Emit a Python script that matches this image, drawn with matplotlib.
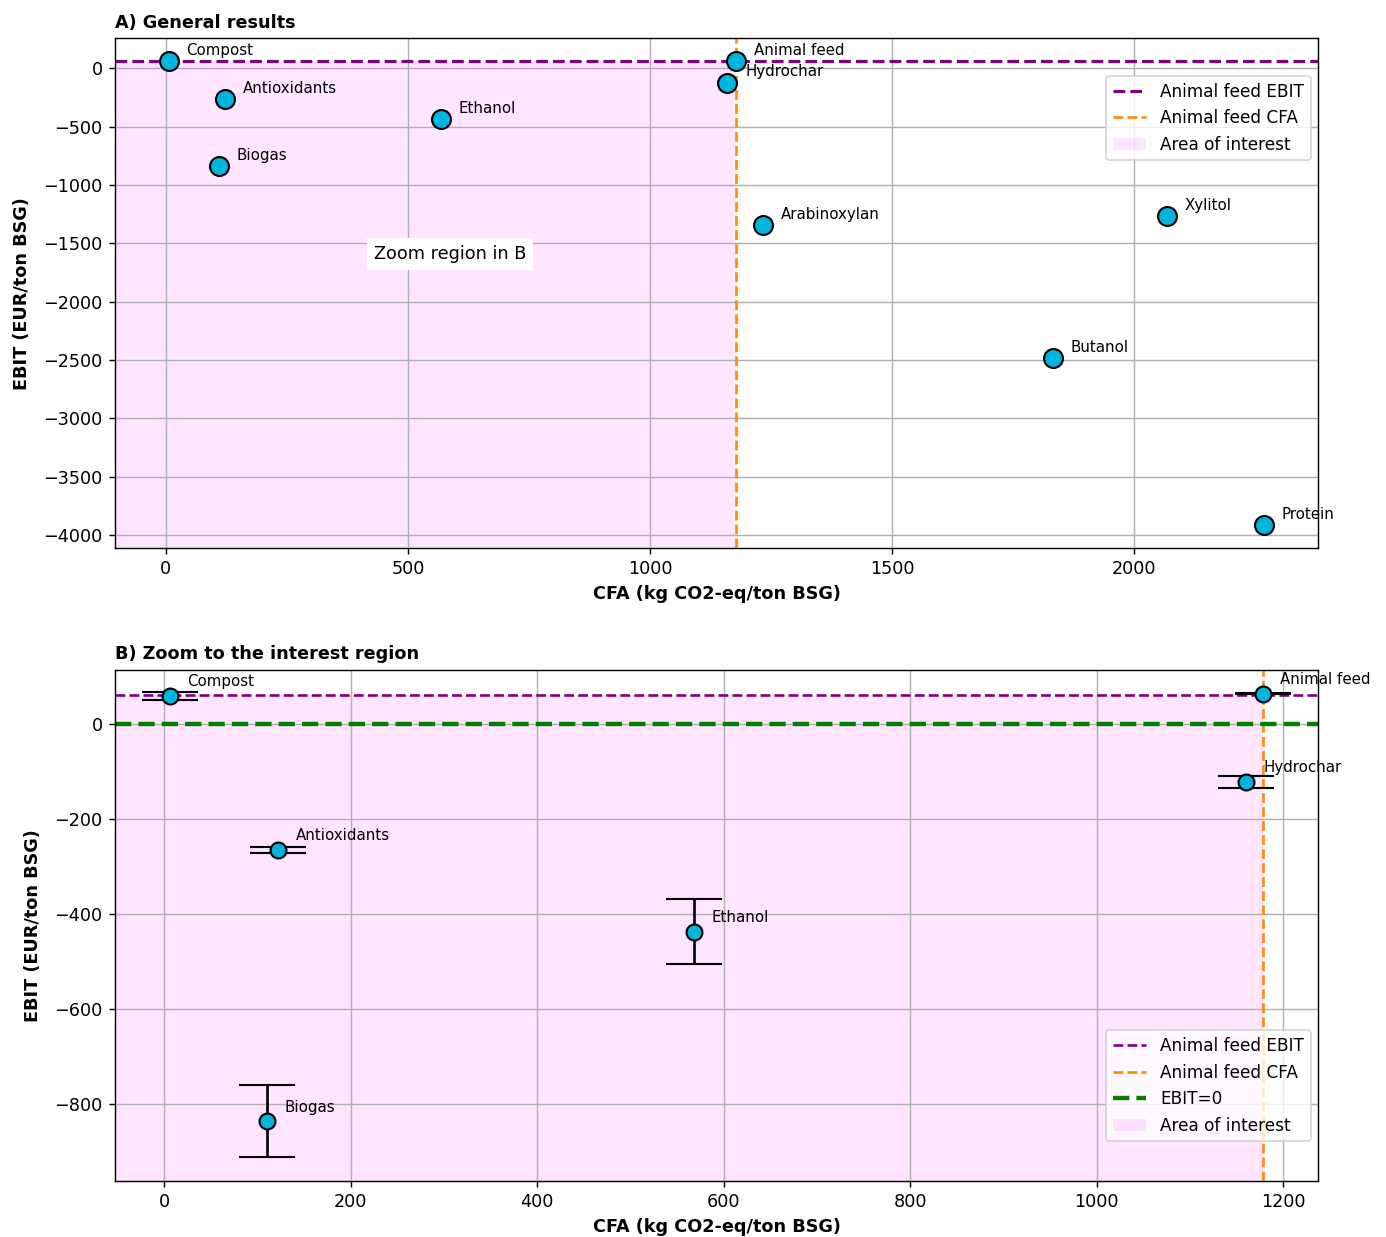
import matplotlib.pyplot as plt
import numpy as np

# products, CFA (kg CO2-eq/ton BSG) and EBIT (EUR/ton BSG)
products = ['Compost', 'Antioxidants', 'Biogas', 'Ethanol', 'Animal feed',
            'Hydrochar', 'Arabinoxylan', 'Xylitol', 'Butanol', 'Protein']
cfa = [6, 122, 110, 568, 1178, 1160, 1233, 2068, 1833, 2268]
ebit = [60, -262, -834, -434, 62, -122, -1345, -1268, -2484, -3914]

# products shown in the zoom panel, with EBIT uncertainty
zoom_products = ['Compost', 'Antioxidants', 'Biogas', 'Ethanol', 'Animal feed', 'Hydrochar']
zoom_cfa = [6, 122, 110, 568, 1178, 1160]
zoom_ebit = [59, -265, -836, -437, 64, -122]
zoom_err = [8, 7, 76, 68, 1, 12]

feed_ebit = 62
feed_cfa = 1178

dot = '#00b5dd'
pink = 'magenta'

fig = plt.figure(figsize=(1386 / 127, 1237 / 127), dpi=127)
ax1 = fig.add_axes([0.083, 0.557, 0.868, 0.412])
ax2 = fig.add_axes([0.083, 0.0453, 0.868, 0.4131])

# A) general results
ax1.fill_between([-1000, feed_cfa], -10000, feed_ebit, color=pink, alpha=0.1, lw=0, label='Area of interest')
ax1.axhline(feed_ebit, color='purple', ls='--', lw=1.8, label='Animal feed EBIT')
ax1.axvline(feed_cfa, color='darkorange', ls='--', lw=1.5, label='Animal feed CFA')
ax1.scatter(cfa, ebit, s=115, color=dot, edgecolor='black', linewidth=1.2, zorder=5)
for name, x, y in zip(products, cfa, ebit):
    ax1.annotate(name, (x, y), xytext=(10, 6), textcoords='offset points',
                 fontsize=8.5, va='center', ha='left')
ax1.text(587, -1594, 'Zoom region in B', ha='center', va='center', fontsize=10,
         bbox=dict(facecolor='white', edgecolor='none', pad=4))
ax1.set_xlim(-105, 2380)
ax1.set_ylim(-4111, 257)
ax1.grid(True)
ax1.set_xlabel('CFA (kg CO2-eq/ton BSG)', fontweight='bold')
ax1.set_ylabel('EBIT (EUR/ton BSG)', fontweight='bold', labelpad=7)
ax1.set_title('A) General results', loc='left', fontweight='bold', fontsize=10)
h, l = ax1.get_legend_handles_labels()
ax1.legend([h[1], h[2], h[0]], [l[1], l[2], l[0]], loc='upper right', fontsize=9.6,
           bbox_to_anchor=(1.0008, 0.943))

# B) zoom to the interest region
ax2.fill_between([-1000, feed_cfa], -10000, feed_ebit, color=pink, alpha=0.1, lw=0, label='Area of interest')
ax2.axhline(feed_ebit, color='purple', ls='--', lw=1.5, label='Animal feed EBIT')
ax2.axvline(feed_cfa, color='darkorange', ls='--', lw=1.5, label='Animal feed CFA')
ax2.axhline(0, color='green', ls='--', lw=2.5, label='EBIT=0')
ax2.errorbar(zoom_cfa, zoom_ebit, yerr=zoom_err, fmt='o', ms=9, color=dot, mec='black',
             mew=1.2, ecolor='black', elinewidth=1.5, capsize=16, capthick=1.2, zorder=5)
for name, x, y in zip(zoom_products, zoom_cfa, zoom_ebit):
    ax2.annotate(name, (x, y), xytext=(10, 8), textcoords='offset points',
                 fontsize=8.5, va='center', ha='left')
ax2.set_xlim(-52.5, 1237.5)
ax2.set_ylim(-962, 114)
ax2.grid(True)
ax2.set_xlabel('CFA (kg CO2-eq/ton BSG)', fontweight='bold')
ax2.set_ylabel('EBIT (EUR/ton BSG)', fontweight='bold', labelpad=7)
ax2.set_title('B) Zoom to the interest region', loc='left', fontweight='bold', fontsize=10)
h, l = ax2.get_legend_handles_labels()
ax2.legend([h[1], h[2], h[3], h[0]], [l[1], l[2], l[3], l[0]], loc='lower right', fontsize=9.6,
           bbox_to_anchor=(1.0008, 0.061))

fig.savefig('out.png', dpi=127)
